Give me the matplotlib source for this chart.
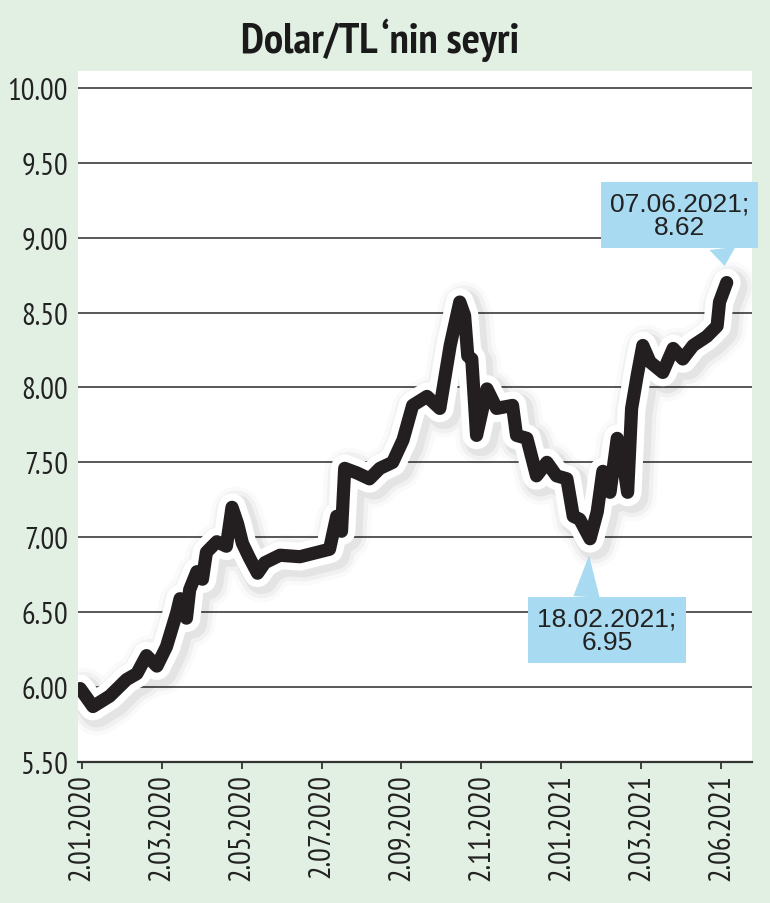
import matplotlib
matplotlib.use('Agg')
import matplotlib.pyplot as plt
import matplotlib.patheffects as pe
from matplotlib import font_manager

# dolar/TL kuru, x = tarih ekseni üzerindeki konum (etiket aralığı birimi)
x_pos = [-0.02, 0.14, 0.35, 0.56, 0.69, 0.81, 0.94, 1.06, 1.19, 1.23, 1.31, 1.35,
         1.44, 1.51, 1.56, 1.69, 1.81, 1.88, 1.95, 2.01, 2.10, 2.20, 2.29, 2.48,
         2.73, 3.10, 3.19, 3.25, 3.29, 3.44, 3.60, 3.73, 3.89, 4.02, 4.14, 4.32,
         4.48, 4.61, 4.73, 4.79, 4.83, 4.88, 4.94, 5.07, 5.19, 5.39, 5.44, 5.57,
         5.69, 5.82, 5.94, 6.07, 6.15, 6.23, 6.36, 6.45, 6.52, 6.61, 6.70, 6.77,
         6.83, 6.88, 6.95, 7.02, 7.11, 7.27, 7.40, 7.52, 7.65, 7.82, 7.95, 7.98,
         8.07]
usd_try = [5.99, 5.87, 5.94, 6.05, 6.09, 6.21, 6.14, 6.27, 6.50, 6.59, 6.46, 6.65,
           6.77, 6.72, 6.90, 6.97, 6.94, 7.20, 7.09, 6.96, 6.86, 6.76, 6.83, 6.88,
           6.87, 6.92, 7.14, 7.04, 7.46, 7.43, 7.39, 7.46, 7.50, 7.65, 7.88, 7.94,
           7.86, 8.28, 8.57, 8.48, 8.21, 8.19, 7.68, 7.99, 7.86, 7.88, 7.68, 7.66,
           7.41, 7.50, 7.41, 7.39, 7.14, 7.12, 6.99, 7.17, 7.44, 7.30, 7.66, 7.52,
           7.30, 7.86, 8.08, 8.28, 8.17, 8.10, 8.26, 8.19, 8.28, 8.34, 8.41, 8.57,
           8.70]

date_labels = ['2.01.2020', '2.03.2020', '2.05.2020', '2.07.2020', '2.09.2020',
               '2.11.2020', '2.01.2021', '2.03.2021', '2.06.2021']
y_ticks = [5.5, 6.0, 6.5, 7.0, 7.5, 8.0, 8.5, 9.0, 9.5, 10.0]

title = 'Dolar/TL \u2018nin seyri'
label_max = '07.06.2021;\n8.62'
label_min = '18.02.2021;\n6.95'

BG = '#e2f0e3'
BLUE = '#a8dbf1'
INK = '#231f20'

names = {f.name for f in font_manager.fontManager.ttflist}
narrow = None
for cand in ['PT Sans Narrow', 'Roboto Condensed', 'Liberation Sans Narrow', 'Fira Sans Condensed']:
    if cand in names:
        narrow = cand
        break
regular = 'Liberation Sans' if 'Liberation Sans' in names else 'DejaVu Sans'
if narrow is None:
    narrow, ysize, xsize, tsize = regular, 17, 18, 25
else:
    ysize, xsize, tsize = 22, 22, 31

fig = plt.figure(figsize=(7.7, 9.04), dpi=100, facecolor=BG)
ax = fig.add_axes([0.101, 0.156, 0.876, 0.764])
ax.set_facecolor('white')

ax.plot(x_pos, usd_try, color=INK, lw=9.5, solid_joinstyle='round',
        solid_capstyle='round', zorder=3,
        path_effects=[
            pe.Stroke(offset=(3, -3), linewidth=36, foreground='black', alpha=0.02),
            pe.Stroke(offset=(3, -3), linewidth=30, foreground='black', alpha=0.035),
            pe.Stroke(offset=(3, -3), linewidth=24, foreground='black', alpha=0.05),
            pe.Stroke(linewidth=20, foreground='white'),
            pe.Normal()])

ax.set_xlim(-0.05, 8.39)
ax.set_ylim(5.5, 10.11)
ax.set_yticks(y_ticks)
ax.set_yticklabels(['%.2f' % v for v in y_ticks], family=narrow, fontsize=ysize, color='#222')
ax.set_xticks(range(len(date_labels)))
ax.set_xticklabels(date_labels, rotation=90, family=narrow, fontsize=xsize, color='#222')
ax.tick_params(axis='y', length=0, pad=7)
ax.tick_params(axis='x', length=5, width=1.3, color='#333', pad=3)

ax.grid(axis='y', color='#2b2b2b', lw=1.1)
ax.set_axisbelow(True)
for s in ['left', 'right', 'top']:
    ax.spines[s].set_visible(False)
ax.spines['bottom'].set_color('#333')
ax.spines['bottom'].set_linewidth(1.6)

# etiket kutuları: son değer ve 2021 başındaki dip
i_max = len(usd_try) - 1
later = [i for i in range(len(x_pos)) if x_pos[i] > 6]
i_min = min(later, key=lambda i: usd_try[i])
box = dict(boxstyle='square,pad=0.35', fc=BLUE, ec='none')
ax.annotate(label_max, xy=(x_pos[i_max], usd_try[i_max]), xytext=(7.48, 9.15),
            ha='center', va='center', family=regular, fontsize=19, color='#222',
            linespacing=1.0, bbox=box,
            arrowprops=dict(arrowstyle='wedge,tail_width=1.0,shrink_factor=0.5',
                            fc=BLUE, ec='none', relpos=(0.8, 0.0),
                            shrinkA=0, shrinkB=12),
            zorder=5)
ax.annotate(label_min, xy=(x_pos[i_min], usd_try[i_min]), xytext=(6.57, 6.38),
            ha='center', va='center', family=regular, fontsize=19, color='#222',
            linespacing=1.0, bbox=box,
            arrowprops=dict(arrowstyle='wedge,tail_width=1.0,shrink_factor=0.5',
                            fc=BLUE, ec='none', relpos=(0.35, 1.0),
                            shrinkA=0, shrinkB=12),
            zorder=5)

fig.text(0.493, 0.955, title, ha='center', va='center', family=narrow,
         weight='bold', fontsize=tsize, color='#1a1a1a')

fig.savefig('out.png', dpi=100, facecolor=BG)
